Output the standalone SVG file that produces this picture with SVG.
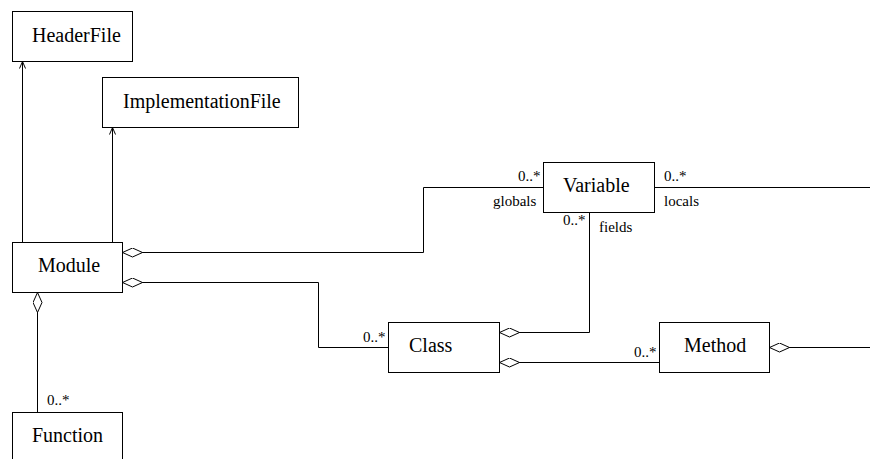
<svg xmlns="http://www.w3.org/2000/svg" width="870" height="459" viewBox="0 0 870 459">
<style>
.box{fill:#fff;stroke:#000;stroke-width:1}
.lbl{font-family:"Liberation Serif","Times New Roman",serif;font-size:20px;fill:#000}
.sm{font-family:"Liberation Serif","Times New Roman",serif;font-size:15px;fill:#000}
.ln{fill:none;stroke:#000;stroke-width:1}
</style>
<defs>
<marker id="dia" viewBox="0 0 20 10" refX="0" refY="5" markerWidth="20" markerHeight="10" markerUnits="userSpaceOnUse" orient="auto">
<path d="M0,5 L10,0.5 L20,5 L10,9.5 Z" fill="#fff" stroke="#000" stroke-width="1"/>
</marker>
<marker id="arr" viewBox="0 0 8 8" refX="7" refY="4" markerWidth="8" markerHeight="8" markerUnits="userSpaceOnUse" orient="auto">
<path d="M0,1 L7,4 L0,7" fill="none" stroke="#000" stroke-width="1"/>
</marker>
</defs>
<rect width="870" height="459" fill="#fff"/>
<g id="connectors">
<path class="ln" d="M22.5,242 V61.5" marker-end="url(#arr)"/>
<path class="ln" d="M112.5,242 V127.5" marker-end="url(#arr)"/>
<path class="ln" d="M122.5,252.5 H423.5 V187.5 H543" marker-start="url(#dia)"/>
<path class="ln" d="M122.5,282.5 H318.5 V347.5 H388" marker-start="url(#dia)"/>
<path class="ln" d="M37.5,292.5 V412" marker-start="url(#dia)"/>
<path class="ln" d="M499.5,332.5 H589.5 V212.5" marker-start="url(#dia)"/>
<path class="ln" d="M499.5,362.5 H659" marker-start="url(#dia)"/>
<path class="ln" d="M769.5,347.5 H870" marker-start="url(#dia)"/>
<path class="ln" d="M654.5,187.5 H870"/>
<text class="sm" x="518" y="181">0..*</text>
<text class="sm" x="493" y="206">globals</text>
<text class="sm" x="563" y="225">0..*</text>
<text class="sm" x="599" y="232">fields</text>
<text class="sm" x="664" y="181">0..*</text>
<text class="sm" x="664" y="206">locals</text>
<text class="sm" x="363" y="342">0..*</text>
<text class="sm" x="634" y="357">0..*</text>
<text class="sm" x="47" y="405">0..*</text>
</g>
<g id="HeaderFile"><rect class="box" x="12.5" y="11.5" width="120" height="50"/><text class="lbl" x="32" y="42">HeaderFile</text></g>
<g id="ImplementationFile"><rect class="box" x="102.5" y="77.5" width="196" height="50"/><text class="lbl" x="123" y="108">ImplementationFile</text></g>
<g id="Module"><rect class="box" x="12.5" y="242.5" width="110" height="50"/><text class="lbl" x="38" y="272">Module</text></g>
<g id="Function"><rect class="box" x="12.5" y="412.5" width="110" height="50"/><text class="lbl" x="32" y="442">Function</text></g>
<g id="Variable"><rect class="box" x="543.5" y="162.5" width="111" height="50"/><text class="lbl" x="563" y="192">Variable</text></g>
<g id="Class"><rect class="box" x="388.5" y="322.5" width="111" height="50"/><text class="lbl" x="409" y="352">Class</text></g>
<g id="Method"><rect class="box" x="659.5" y="322.5" width="110" height="50"/><text class="lbl" x="684" y="352">Method</text></g>
</svg>
